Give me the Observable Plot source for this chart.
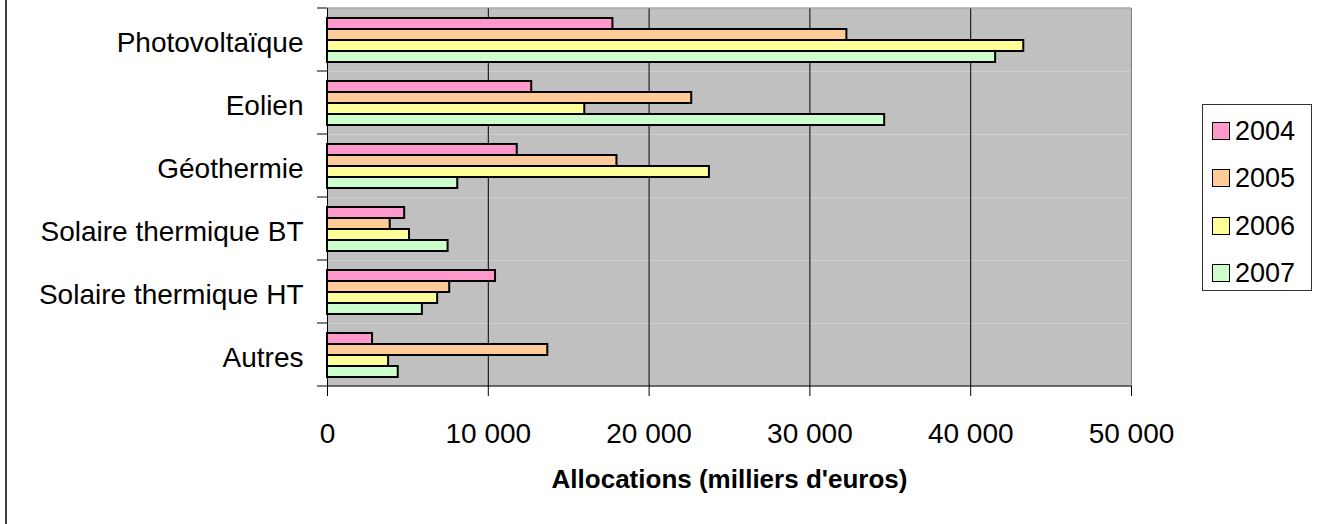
<!DOCTYPE html>
<html>
<head>
<meta charset="utf-8">
<script src="https://cdn.jsdelivr.net/npm/d3@7"></script>
<script src="https://cdn.jsdelivr.net/npm/@observablehq/plot@0.6"></script>
<style>
  html, body { margin: 0; padding: 0; background: #fff; }
  #wrap {
    position: relative; width: 1319px; height: 524px; overflow: hidden;
    font-family: "Liberation Sans", Arial, sans-serif; color: #000;
  }
  #wrap::before {
    content: ""; position: absolute; left: 5px; top: 0; bottom: 0;
    width: 2px; background: #404040;
  }
  #wrap svg { display: block; }
  g[aria-label="x-axis label"] text { font-weight: bold; font-size: 26px; }
  #legend {
    position: absolute; left: 1202px; top: 104px; width: 110px; height: 187px;
    box-sizing: border-box; border: 1px solid #333; background: #fff;
    display: flex; flex-direction: column; gap: 17.3px; padding-top: 11px;
  }
  #legend .item { display: flex; align-items: center; height: 30px; }
  #legend .sw {
    width: 16px; height: 16px; border: 1.5px solid #000;
    margin-left: 9px; margin-right: 5px; box-sizing: content-box;
  }
  #legend .lab { font-size: 27px; line-height: 30px; }
</style>
</head>
<body>
<div id="wrap"></div>
<script>
// Allocations par filière (milliers d'euros), 2004–2007
const categories = ["Photovoltaïque", "Eolien", "Géothermie", "Solaire thermique BT", "Solaire thermique HT", "Autres"];
const years = ["2004", "2005", "2006", "2007"];
const v2004 = [17750, 12700, 11800, 4800, 10450, 2800];
const v2005 = [32300, 22650, 18000, 3900, 7600, 13700];
const v2006 = [43300, 16000, 23750, 5100, 6850, 3800];
const v2007 = [41550, 34650, 8100, 7500, 5900, 4400];
const xTicks = [0, 10000, 20000, 30000, 40000, 50000];
const yearColors = ["#ff99cc", "#ffcc99", "#ffff99", "#ccffcc"];
const xTitle = "Allocations (milliers d'euros)";

const series = [v2004, v2005, v2006, v2007];
const rows = categories.flatMap((c, i) =>
  years.map((y, j) => ({category: c, year: y, value: series[j][i]}))
);

const fmt = d3.formatLocale({thousands: " ", grouping: [3], decimal: ",", currency: ["", " €"]}).format(",");

const chart = Plot.plot({
  width: 1319,
  height: 524,
  marginLeft: 327,
  marginRight: 188,
  marginTop: 8,
  marginBottom: 138,
  style: {fontFamily: "'Liberation Sans', Arial, sans-serif", fontSize: "28px", color: "#000", background: "transparent"},
  x: {domain: [0, 50000]},
  y: {domain: years, axis: null, paddingInner: 0, paddingOuter: 0.7},
  fy: {domain: categories, padding: 0, axis: null},
  color: {domain: years, range: yearColors},
  marks: [
    Plot.frame({fill: "#c0c0c0", stroke: "none"}),
    Plot.gridX(xTicks.slice(1, -1), {stroke: "#000", strokeOpacity: 1}),
    Plot.ruleX([50000], {stroke: "#808080"}),
    Plot.ruleX([0], {stroke: "#000"}),
    Plot.barX(rows, {x: "value", y: "year", fy: "category", fill: "year", stroke: "#000", strokeWidth: 2}),
    Plot.axisX(xTicks, {
      tickSize: 10, tickPadding: 27, tickFormat: fmt,
      label: xTitle, labelAnchor: "center", labelArrow: "none", labelOffset: 101
    }),
    Plot.axisFy({anchor: "left", tickSize: 0, tickPadding: 24, dy: 3, label: null})
  ]
});

// Plot-area border on top, category boundary ticks and the bottom axis line
const sx = chart.scale("x");
const sfy = chart.scale("fy");
const X0 = sx.apply(0), X1 = sx.apply(50000);
const bounds = categories.map(c => sfy.apply(c));
bounds.push(sfy.apply(categories[categories.length - 1]) + sfy.bandwidth);
const g = d3.select(chart).append("g");
g.append("line")
  .attr("x1", X0).attr("x2", X1).attr("y1", bounds[0]).attr("y2", bounds[0])
  .attr("stroke", "#808080");
g.selectAll("line.tick").data(bounds).join("line").attr("class", "tick")
  .attr("x1", X0 - 10).attr("x2", X0).attr("y1", d => d).attr("y2", d => d)
  .attr("stroke", "#000");
g.append("line")
  .attr("x1", X0).attr("x2", X1)
  .attr("y1", bounds[bounds.length - 1]).attr("y2", bounds[bounds.length - 1])
  .attr("stroke", "#000");

const wrap = d3.select("#wrap");
wrap.node().appendChild(chart);

// Legend built from the colour scale
const color = chart.scale("color");
const legend = wrap.append("div").attr("id", "legend");
const item = legend.selectAll("div.item").data(color.domain).join("div").attr("class", "item");
item.append("span").attr("class", "sw").style("background", d => color.apply(d));
item.append("span").attr("class", "lab").text(d => d);
</script>
</body>
</html>
